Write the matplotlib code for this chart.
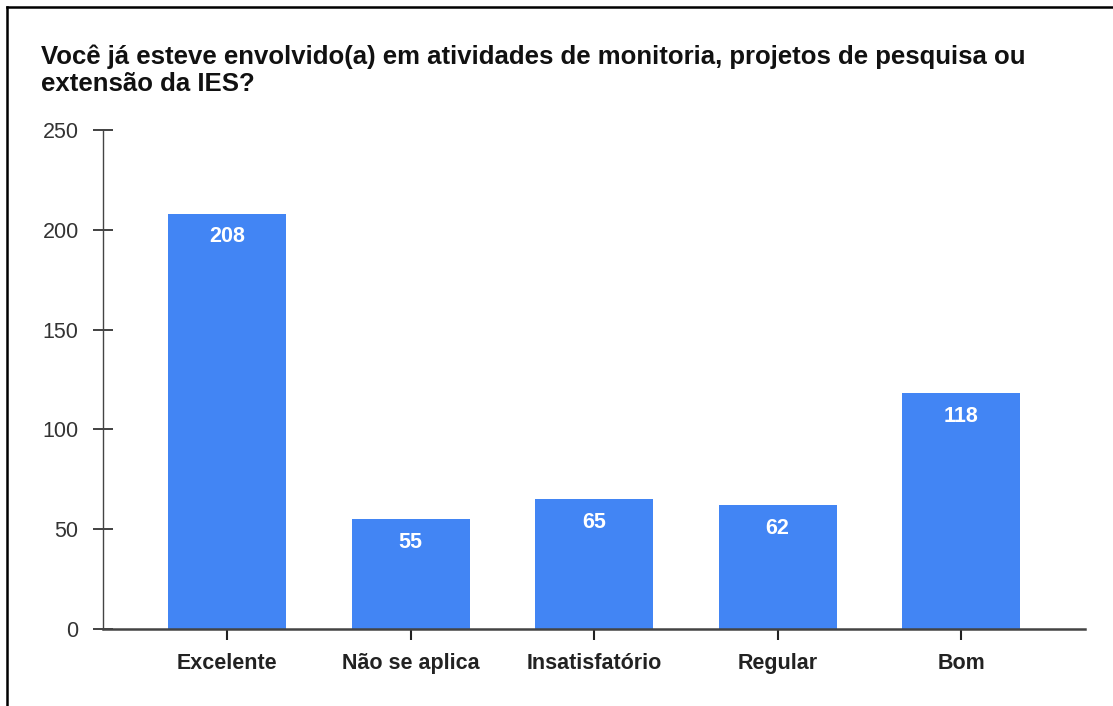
import matplotlib.pyplot as plt
from matplotlib.lines import Line2D

categorias = ["Excelente", "Não se aplica", "Insatisfatório", "Regular", "Bom"]
valores = [208, 55, 65, 62, 118]
yticks = [0, 50, 100, 150, 200, 250]

titulo = ["Você já esteve envolvido(a) em atividades de monitoria, projetos de pesquisa ou",
          "extensão da IES?"]

plt.rcParams['font.family'] = ['Liberation Sans', 'DejaVu Sans']

fig = plt.figure(figsize=(11.13, 7.06), dpi=100)
ax = fig.add_axes([0.0925, 0.109, 0.8825, 0.707])

x = list(range(len(categorias)))
bars = ax.bar(x, valores, width=0.643, color="#4285F4", zorder=2)

for b, v in zip(bars, valores):
    ax.text(b.get_x() + b.get_width() / 2, v - 11.5, str(v), ha="center", va="center",
            color="white", fontsize=15.5, fontweight="bold", zorder=3)

ax.set_xlim(-0.676, 4.676)
ax.set_ylim(0, 250)
ax.set_yticks(yticks)
ax.set_xticks(x)
ax.set_xticklabels(categorias, fontsize=15.5, fontweight="bold", color="#222222")
ax.tick_params(axis="y", direction="inout", length=15, width=1.3, colors="#333333",
               labelsize=15.5, labelcolor="#333333", pad=10)
ax.tick_params(axis="x", direction="inout", length=16, width=1.5, colors="#222222",
               pad=9)

for s in ["top", "right"]:
    ax.spines[s].set_visible(False)
ax.spines["left"].set_color("#444444")
ax.spines["left"].set_linewidth(1.0)
ax.spines["bottom"].set_color("#444444")
ax.spines["bottom"].set_linewidth(1.8)

# titulo em duas linhas
for linha, yy in zip(titulo, [0.9093, 0.8715]):
    fig.text(0.037, yy, linha, fontsize=18.5, fontweight="bold", color="#111111",
             ha="left", va="baseline")

# moldura da captura (esquerda e topo)
fig.add_artist(Line2D([0.0065, 0.0065], [0, 0.99], transform=fig.transFigure,
                      color="black", lw=1.8))
fig.add_artist(Line2D([0.0065, 1], [0.99, 0.99], transform=fig.transFigure,
                      color="black", lw=1.8))

fig.savefig("out.png", dpi=100)
